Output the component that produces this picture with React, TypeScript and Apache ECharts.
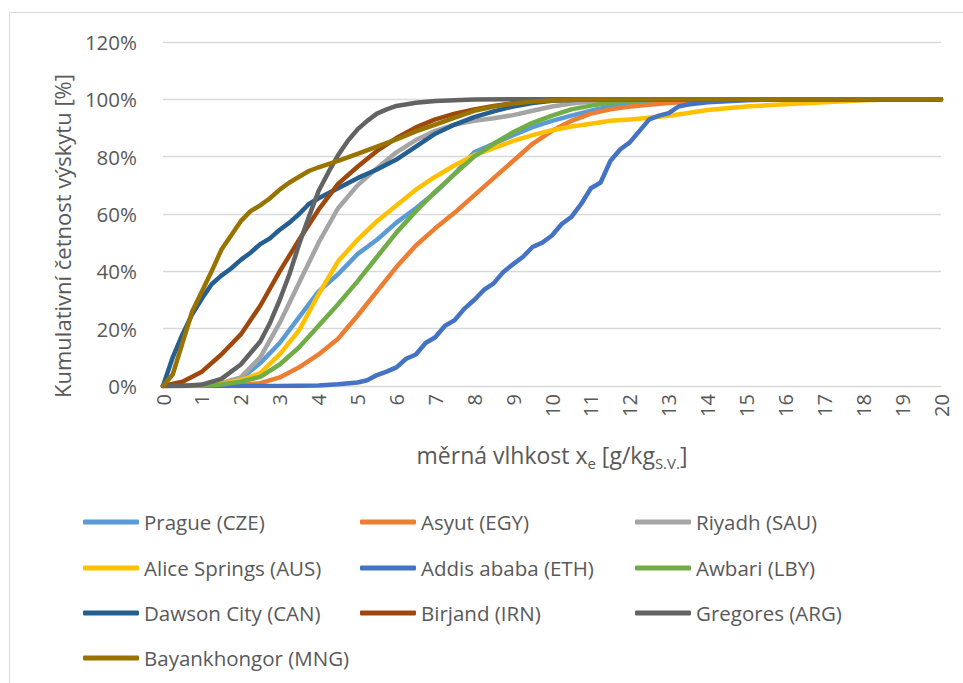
import React, { useEffect, useRef } from "react";
import * as echarts from "echarts";

// Specific humidity [g/kg of dry air] vs cumulative frequency [%]
const prague = [[0,0],[1,0.3],[1.5,1],[2,2.5],[2.5,8],[3,15],[3.5,24],[4,33],[4.5,39],[5,46],[5.5,51],[6,57],[6.5,62],[7,67.5],[7.5,74],[8,81.5],[8.5,84.5],[9,87.5],[9.5,90.3],[10,92.5],[10.5,94.3],[11,96],[11.5,97.5],[12,98.5],[13,99.5],[14,100],[20,100]];
const asyut = [[0,0],[2,0.3],[2.5,1],[3,3],[3.5,6.5],[4,11],[4.5,16.5],[5,24.5],[5.5,33],[6,41.5],[6.5,49],[7,55],[7.5,60.5],[8,66.5],[8.5,72.5],[9,78.5],[9.5,84.5],[10,89],[10.5,92.5],[11,95],[11.5,96.5],[12,97.5],[13,98.7],[14,99.6],[15,100],[20,100]];
const riyadh = [[0,0],[1,0.3],[1.5,1],[2,3],[2.5,10],[3,22],[3.5,36],[4,50],[4.5,62],[5,70],[5.5,76],[6,81.5],[6.5,85.8],[7,89],[7.5,91.2],[8,92.5],[8.5,93.4],[9,94.5],[9.5,96],[10,97.5],[10.5,98.5],[11,99.2],[12,100],[20,100]];
const aliceSprings = [[0,0],[1,0.2],[1.5,0.8],[2,2],[2.5,4.5],[3,11],[3.5,19.5],[4,32],[4.5,43.5],[5,51],[5.5,57.5],[6,63],[6.5,68.5],[7,73],[7.5,77],[8,80.5],[8.5,83],[9,85.5],[9.5,87.5],[10,89.2],[10.5,90.5],[11,91.5],[11.5,92.5],[12,93],[12.5,93.6],[13,94.3],[13.5,95.2],[14,96.3],[15,97.5],[16,98.3],[17,99],[18,99.7],[19,100],[20,100]];
const addisAbaba = [[0,0],[3,0],[4,0.2],[4.5,0.6],[5,1.2],[5.25,2],[5.5,3.8],[5.75,5],[6,6.5],[6.25,9.5],[6.5,11],[6.75,15],[7,17],[7.25,21],[7.5,23],[7.75,27],[8,30],[8.25,33.5],[8.5,35.8],[8.75,39.8],[9,42.5],[9.25,45],[9.5,48.5],[9.75,50],[10,52.5],[10.25,56.5],[10.5,59],[10.75,63.5],[11,69],[11.25,71],[11.5,78.5],[11.75,82.5],[12,85],[12.25,89],[12.5,93],[12.75,94.3],[13,95.2],[13.25,97.5],[13.5,98.2],[14,99],[15,99.7],[16,100],[20,100]];
const awbari = [[0,0],[1,0.1],[1.5,0.5],[2,1.5],[2.5,3.2],[3,7.5],[3.5,13.5],[4,21],[4.5,28.5],[5,36.5],[5.5,45],[6,53.5],[6.5,61],[7,67.8],[7.5,74],[8,80],[8.5,84.5],[9,88.5],[9.5,91.8],[10,94.3],[10.5,96.5],[11,97.8],[11.5,98.8],[12,99.5],[13,100],[20,100]];
const dawsonCity = [[0,0],[0.25,10],[0.5,18],[0.75,25],[1,30.5],[1.25,35.5],[1.5,38.5],[1.75,41],[2,44],[2.25,46.5],[2.5,49.5],[2.75,51.5],[3,54.5],[3.25,57],[3.5,60],[3.75,63.5],[4,65.5],[4.5,69],[5,72.5],[5.5,75.5],[6,79],[6.5,83.5],[7,88],[7.5,91.2],[8,93.8],[8.5,95.8],[9,97.5],[9.5,98.7],[10,99.5],[11,100],[20,100]];
const birjand = [[0,0],[0.5,1.5],[1,5],[1.5,11],[2,18],[2.5,28],[3,40],[3.5,51],[4,61.5],[4.5,70.5],[5,76.5],[5.5,82],[6,86.5],[6.5,90.2],[7,93],[7.5,95],[8,96.5],[8.5,97.7],[9,98.6],[9.5,99.3],[10,99.8],[11,100],[20,100]];
const gregores = [[0,0],[0.5,0],[1,0.5],[1.5,2.5],[2,7.5],[2.5,15.5],[2.75,22],[3,30],[3.25,39],[3.5,49.5],[3.75,59],[4,68],[4.25,74.5],[4.5,80.5],[4.75,85.5],[5,89.5],[5.25,92.5],[5.5,95],[5.75,96.5],[6,97.7],[6.5,98.8],[7,99.4],[8,99.9],[9,100],[20,100]];
const bayankhongor = [[0,0],[0.25,4],[0.5,15],[0.75,26],[1,33],[1.25,40],[1.5,47.5],[1.75,52.5],[2,57.5],[2.25,61],[2.5,63],[2.75,65.5],[3,68.5],[3.25,71],[3.5,73],[3.75,75],[4,76.3],[4.5,78.5],[5,81],[5.5,83.5],[6,86],[6.5,88.8],[7,91.2],[7.5,93.6],[8,96],[8.5,97.5],[9,98.5],[9.5,99.2],[10,99.6],[11,100],[20,100]];

const seriesNames = [
  "Prague (CZE)", "Asyut (EGY)", "Riyadh (SAU)",
  "Alice Springs (AUS)", "Addis ababa (ETH)", "Awbari (LBY)",
  "Dawson City (CAN)", "Birjand (IRN)", "Gregores (ARG)",
  "Bayankhongor (MNG)",
];
const seriesData = [prague, asyut, riyadh, aliceSprings, addisAbaba, awbari, dawsonCity, birjand, gregores, bayankhongor];
const seriesColors = [
  "#5B9BD5", "#ED7D31", "#A5A5A5",
  "#FFC000", "#4472C4", "#70AD47",
  "#255E91", "#9E480E", "#636363",
  "#997300",
];

const FONT = "'Open Sans', 'Noto Sans', sans-serif";
const TEXT = "#595959";

// legend laid out in three columns, filled row by row
const legendCols = [83, 360, 635];
const legendRows = [522, 568, 613, 658];

export default function App() {
  const ref = useRef<HTMLDivElement>(null);

  useEffect(() => {
    if (!ref.current) return;
    const chart = echarts.init(ref.current, null, { renderer: "svg" });

    const legends = seriesNames.map((name, i) => ({
      show: true,
      data: [name],
      left: legendCols[i % 3],
      top: legendRows[Math.floor(i / 3)] - 12,
      padding: 0,
      icon: "roundRect",
      itemWidth: 56,
      itemHeight: 5,
      selectedMode: false,
      textStyle: { fontFamily: FONT, fontSize: 20.5, lineHeight: 24, color: TEXT },
    }));

    chart.setOption({
      animation: false,
      backgroundColor: "#ffffff",
      textStyle: { fontFamily: FONT },
      grid: { left: 163, right: 22, top: 42, bottom: 297, containLabel: false },
      legend: legends,
      graphic: [
        {
          type: "rect",
          shape: { x: 9.5, y: 12.5, width: 1000, height: 700 },
          style: { fill: "none", stroke: "#D9D9D9", lineWidth: 1 },
          silent: true,
        },
        {
          type: "text",
          x: 62,
          y: 236,
          rotation: Math.PI / 2,
          silent: true,
          style: {
            text: "Kumulativní četnost výskytu [%]",
            fontFamily: FONT,
            fontSize: 22,
            fill: TEXT,
            align: "center",
            verticalAlign: "middle",
          },
        },
      ],
      xAxis: {
        type: "value",
        min: 0,
        max: 20,
        interval: 1,
        name: "{a|měrná vlhkost x}{s|e}{a| [g/kg}{s|S.V.}{a|]}",
        nameLocation: "middle",
        nameGap: 52,
        nameTextStyle: {
          rich: {
            a: { fontFamily: FONT, fontSize: 23, color: TEXT, lineHeight: 28, verticalAlign: "bottom" },
            s: { fontFamily: FONT, fontSize: 15, color: TEXT, lineHeight: 15, verticalAlign: "bottom", padding: [0, 0, -4, 0] },
          },
        },
        axisLine: { show: true, lineStyle: { color: "#D9D9D9", width: 1 } },
        axisTick: { show: false },
        splitLine: { show: false },
        axisLabel: { rotate: 90, fontSize: 20, color: TEXT, margin: 8, fontFamily: FONT },
      },
      yAxis: {
        type: "value",
        min: 0,
        max: 120,
        interval: 20,
        axisLine: { show: false },
        axisTick: { show: false },
        splitLine: { show: true, lineStyle: { color: "#D9D9D9", width: 1.3 } },
        axisLabel: { formatter: "{value}%", fontSize: 20.5, color: TEXT, margin: 26, fontFamily: FONT },
      },
      series: seriesNames.map((name, i) => ({
        name,
        type: "line",
        data: seriesData[i],
        showSymbol: false,
        symbol: "none",
        smooth: false,
        color: seriesColors[i],
        lineStyle: { width: 4.5, color: seriesColors[i], cap: "round", join: "round" },
        emphasis: { disabled: true },
      })),
    });

    return () => chart.dispose();
  }, []);

  return (
    <div
      ref={ref}
      style={{ position: "absolute", left: 0, top: 0, width: 963, height: 683, background: "#fff" }}
    />
  );
}
